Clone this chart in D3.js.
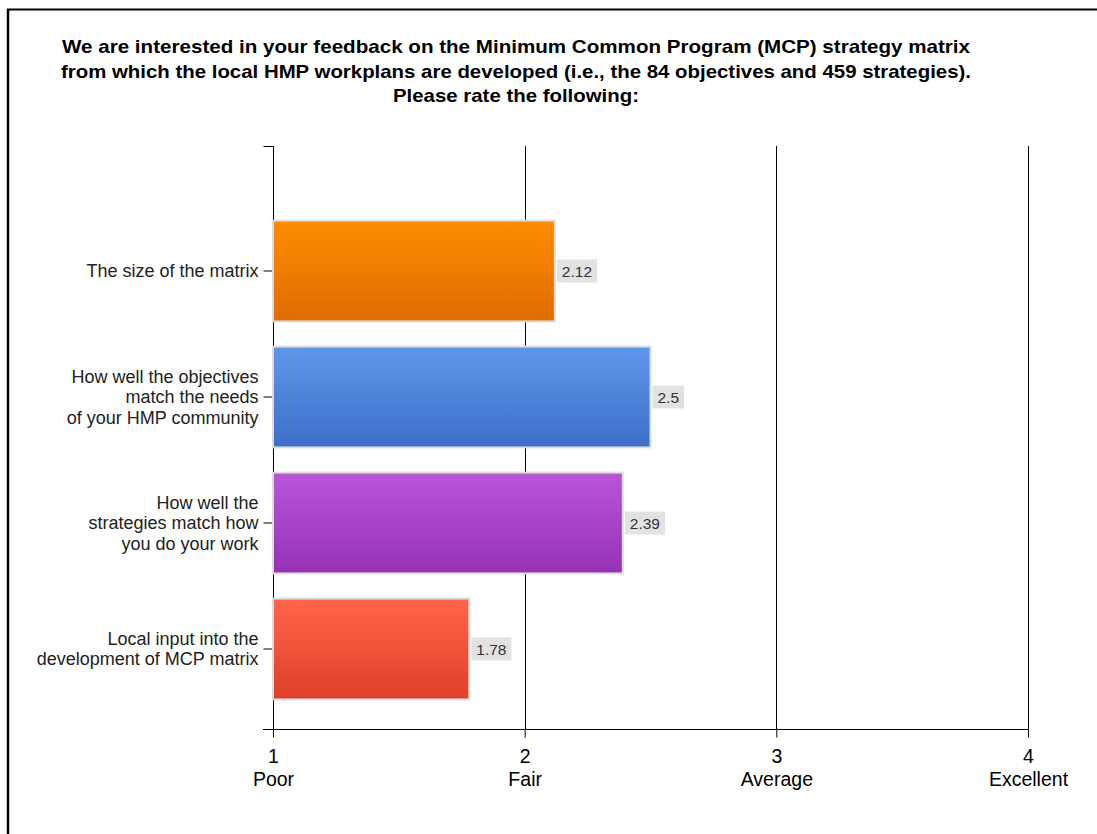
<!DOCTYPE html>
<html>
<head>
<meta charset="utf-8">
<script src="https://cdn.jsdelivr.net/npm/d3@7"></script>
<style>
  html, body { margin: 0; padding: 0; background: #fff; }
  svg { display: block; }
</style>
</head>
<body>
<script>
// Survey ratings on the MCP strategy matrix
const titleLines = [
  "We are interested in your feedback on the Minimum Common Program (MCP) strategy matrix",
  "from which the local HMP workplans are developed (i.e., the 84 objectives and 459 strategies).",
  "Please rate the following:"
];
const titleWidths = [908, 910, 246];
const categories = [
  ["The size of the matrix"],
  ["How well the objectives", "match the needs", "of your HMP community"],
  ["How well the", "strategies match how", "you do your work"],
  ["Local input into the", "development of MCP matrix"]
];
const values = [2.12, 2.5, 2.39, 1.78];
const tickValues = [1, 2, 3, 4];
const tickNames = ["Poor", "Fair", "Average", "Excellent"];
const barColors = [
  ["#ff8d00", "#df6c00"],
  ["#6096ea", "#3d6fc8"],
  ["#bb55d8", "#9532b3"],
  ["#ff6548", "#df4028"]
];

const W = 1097, H = 834;
const svg = d3.select("body").append("svg").attr("width", W).attr("height", H);
const font = "'Liberation Sans', Arial, sans-serif";

// frame
svg.append("line").attr("x1", 7).attr("x2", W).attr("y1", 9.5).attr("y2", 9.5)
  .attr("stroke", "#000").attr("stroke-width", 2);
svg.append("line").attr("x1", 8).attr("x2", 8).attr("y1", 9).attr("y2", H)
  .attr("stroke", "#000").attr("stroke-width", 2.5);

// title
svg.append("g").selectAll("text").data(titleLines).join("text")
  .attr("x", 516).attr("y", (d, i) => 53 + i * 24.5)
  .attr("text-anchor", "middle")
  .attr("font-family", font).attr("font-weight", "bold").attr("font-size", 18.5)
  .attr("textLength", (d, i) => titleWidths[i]).attr("lengthAdjust", "spacingAndGlyphs")
  .attr("fill", "#000")
  .text(d => d);

const x = d3.scaleLinear().domain([1, 4]).range([273, 1028]);
const y = d3.scaleBand().domain(d3.range(categories.length)).range([208, 712])
  .paddingInner(0.2).paddingOuter(0.1);
const yTop = 146, yBot = 729;

// gradients
const defs = svg.append("defs");
barColors.forEach((c, i) => {
  const g = defs.append("linearGradient").attr("id", "grad" + i)
    .attr("x1", 0).attr("x2", 0).attr("y1", 0).attr("y2", 1);
  g.append("stop").attr("offset", "0%").attr("stop-color", c[0]);
  g.append("stop").attr("offset", "100%").attr("stop-color", c[1]);
});

// vertical grid lines
svg.append("g").selectAll("line").data(tickValues.slice(1)).join("line")
  .attr("x1", d => Math.round(x(d)) + 0.5).attr("x2", d => Math.round(x(d)) + 0.5)
  .attr("y1", yTop).attr("y2", yBot)
  .attr("stroke", "#000").attr("stroke-width", 1);

// bottom axis
const xAxis = d3.axisBottom(x).tickValues(tickValues).tickSize(0).tickFormat("");
const gx = svg.append("g").attr("transform", `translate(0,${yBot + 0.5})`).call(xAxis);
gx.select(".domain").remove();
gx.append("line").attr("x1", 263).attr("x2", x(4) + 0.5).attr("y1", 0).attr("y2", 0)
  .attr("stroke", "#000");
gx.selectAll(".tick").each(function (d, i) {
  const t = d3.select(this);
  t.append("line").attr("y1", 0).attr("y2", 8).attr("stroke", "#000");
  t.append("text").attr("y", 33).attr("text-anchor", "middle")
    .attr("font-family", font).attr("font-size", 19.5).attr("fill", "#000").text(d);
  t.append("text").attr("y", 56).attr("text-anchor", "middle")
    .attr("font-family", font).attr("font-size", 19.5).attr("fill", "#000")
    .text(tickNames[i]);
});

// left axis
const yAxis = d3.axisLeft(y).tickSize(10).tickFormat("");
const gy = svg.append("g").attr("transform", `translate(${Math.round(x(1)) + 0.5},0)`).call(yAxis);
gy.select(".domain").remove();
gy.append("line").attr("x1", 0).attr("x2", 0).attr("y1", yTop).attr("y2", yBot).attr("stroke", "#000");
gy.append("line").attr("x1", -10).attr("x2", 0).attr("y1", yTop + 0.5).attr("y2", yTop + 0.5).attr("stroke", "#000");
gy.selectAll(".tick line").attr("stroke", "#000");
gy.selectAll(".tick").each(function (d) {
  const lines = categories[d];
  const t = d3.select(this).append("text")
    .attr("x", -14).attr("text-anchor", "end")
    .attr("font-family", font).attr("font-size", 18).attr("fill", "#222");
  const lh = 20.5;
  lines.forEach((s, k) => {
    t.append("tspan").attr("x", -15)
      .attr("y", (k - (lines.length - 1) / 2) * lh + 6)
      .text(s);
  });
});

// bars
const bars = svg.append("g").selectAll("g").data(values).join("g");
bars.append("rect")
  .attr("x", x(1))
  .attr("y", (d, i) => y(i))
  .attr("width", d => x(d) - x(1))
  .attr("height", y.bandwidth())
  .attr("fill", (d, i) => `url(#grad${i})`)
  .attr("stroke", "#dcdcdc").attr("stroke-width", 2);

// value labels
bars.each(function (d, i) {
  const g = d3.select(this);
  const cy = y(i) + y.bandwidth() / 2;
  const txt = g.append("text")
    .attr("font-family", font).attr("font-size", 15.5).attr("fill", "#333")
    .attr("y", cy + 5.5)
    .text(d);
  const w = txt.node().getComputedTextLength();
  const bx = x(d) + 2;
  g.insert("rect", "text")
    .attr("x", bx).attr("y", cy - 11.5).attr("width", w + 10).attr("height", 23)
    .attr("fill", "#e2e2e2");
  txt.attr("x", bx + 5);
});
</script>
</body>
</html>
